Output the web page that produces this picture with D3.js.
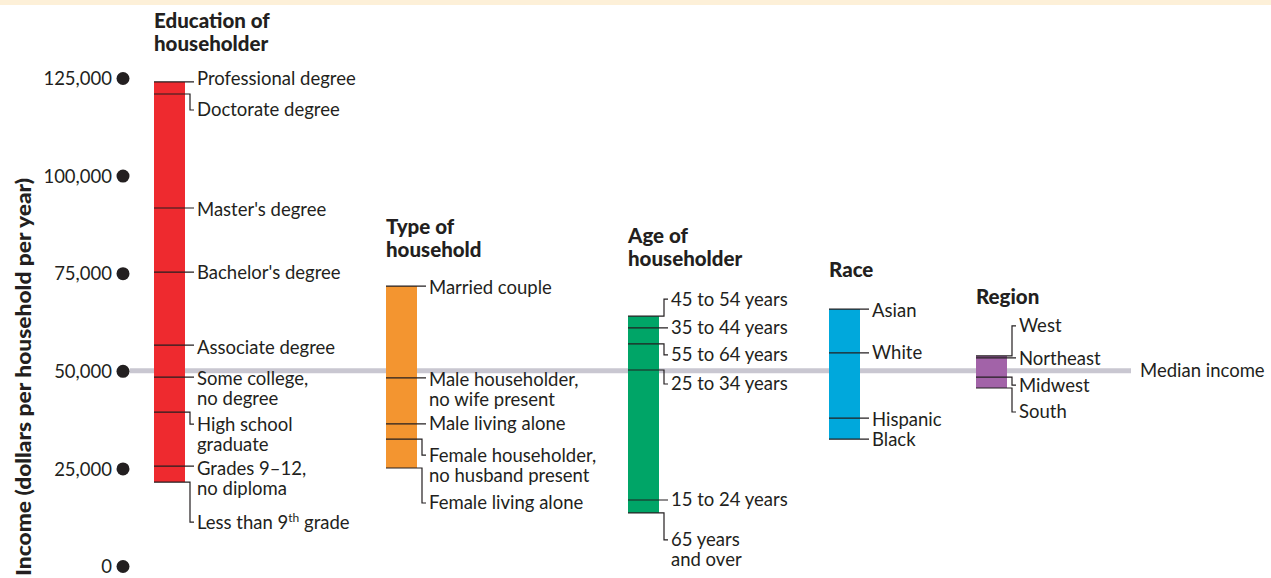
<!DOCTYPE html>
<html lang="en">
<head>
<meta charset="utf-8">
<title>Median household income by group</title>
<script src="https://cdn.jsdelivr.net/npm/d3@7"></script>
<style>
  body { margin: 0; background: #fff; }
  svg { display: block; font-family: Lato, "Open Sans", sans-serif; }
  .lbl { font-size: 18.5px; fill: #231f20; }
  .ttl { font-size: 20.5px; font-weight: 900; fill: #231f20; }
  .ytitle { font-size: 20.5px; font-weight: 900; fill: #231f20; }
  .conn { stroke: #231f20; stroke-width: 1.2; fill: none; }
</style>
</head>
<body>
<svg id="chart" width="1271" height="578"></svg>
<script>
// axis
const yTicks = [0, 25000, 50000, 75000, 100000, 125000];
const medianIncome = 50000;

// education of householder
const eduLabels = ["Professional degree", "Doctorate degree", "Master's degree", "Bachelor's degree",
  "Associate degree", "Some college,|no degree", "High school|graduate", "Grades 9\u201312,|no diploma",
  "Less than 9th grade"];
const eduValues = [124000, 120900, 91700, 75300, 56600, 48400, 39400, 25600, 21500];

// type of household
const typeLabels = ["Married couple", "Male householder,|no wife present", "Male living alone",
  "Female householder,|no husband present", "Female living alone"];
const typeValues = [71700, 48200, 36400, 32500, 25100];

// age of householder
const ageLabels = ["45 to 54 years", "35 to 44 years", "55 to 64 years", "25 to 34 years",
  "15 to 24 years", "65 years|and over"];
const ageValues = [64000, 61000, 56900, 50200, 16900, 13600];

// race
const raceLabels = ["Asian", "White", "Hispanic", "Black"];
const raceValues = [65800, 54600, 37900, 32500];

// region
const regionLabels = ["West", "Northeast", "Midwest", "South"];
const regionValues = [53800, 53300, 48400, 45600];

// label nudges (px from the value line), layout only
const eduShift = [-3, 16, 2, 0, 2, 1, 12, 2, 40];
const typeShift = [1, 2, 0, 16, 35];
const ageShift = [-17, 0, 11, 14, 0, 27];
const raceShift = [1, 0, 1, 0];
const regionShift = [-30, 1, 8, 24];

const groups = [
  {title: ["Education of", "householder"], labels: eduLabels, values: eduValues, shift: eduShift, color: "#ee2a2f", x: 154, ty: 28},
  {title: ["Type of", "household"], labels: typeLabels, values: typeValues, shift: typeShift, color: "#f39530", x: 386, ty: 234},
  {title: ["Age of", "householder"], labels: ageLabels, values: ageValues, shift: ageShift, color: "#00a567", x: 628, ty: 243},
  {title: ["Race"], labels: raceLabels, values: raceValues, shift: raceShift, color: "#00a8dc", x: 829, ty: 277},
  {title: ["Region"], labels: regionLabels, values: regionValues, shift: regionShift, color: "#a263a8", x: 976, ty: 304}
];

var svg = d3.select('#chart');
var barW = 31;

var y = d3.scaleLinear().domain([0, 125000]).range([566, 78]);

// top band
svg.append('rect').attr('x', 0).attr('y', 0).attr('width', 1271).attr('height', 5).attr('fill', '#fdf0d8');

// median line
svg.append('line')
  .attr('x1', 130).attr('x2', 1131)
  .attr('y1', y(medianIncome)).attr('y2', y(medianIncome))
  .attr('stroke', '#c9c7d1').attr('stroke-width', 5);
svg.append('text').attr('class', 'lbl')
  .attr('x', 1140).attr('y', y(medianIncome)).attr('dy', '0.35em')
  .text('Median income');

// y axis
var axis = d3.axisLeft(y).tickValues(yTicks).tickSize(0).tickPadding(11)
  .tickFormat(d3.format(','));
var gAxis = svg.append('g').attr('transform', 'translate(123,0)').call(axis);
gAxis.select('.domain').remove();
gAxis.selectAll('.tick text').attr('fill', '#231f20').style('font-size', '18.5px')
  .style('font-family', 'Lato, sans-serif').attr('dy', '0.36em');
gAxis.selectAll('.tick').append('circle').attr('r', 6.5).attr('fill', '#231f20');

svg.append('text').attr('class', 'ytitle')
  .attr('transform', 'translate(31,377) rotate(-90)')
  .attr('text-anchor', 'middle')
  .attr('textLength', 398).attr('lengthAdjust', 'spacingAndGlyphs')
  .text('Income (dollars per household per year)');

// groups
groups.forEach(function(g){
  var gg = svg.append('g');
  var top = d3.max(g.values), bot = d3.min(g.values);
  var right = g.x + barW;

  g.title.forEach(function(t, i){
    gg.append('text').attr('class', 'ttl').attr('x', g.x).attr('y', g.ty + i * 23).text(t);
  });

  gg.append('rect')
    .attr('x', g.x).attr('y', y(top))
    .attr('width', barW).attr('height', y(bot) - y(top))
    .attr('fill', g.color);

  g.values.forEach(function(v, i){
    var ly = y(v);
    var ty = ly + g.shift[i];
    var elbow = right + 5;
    var path;
    if (Math.abs(g.shift[i]) > 4) {
      path = 'M' + g.x + ',' + ly + 'H' + elbow + 'V' + ty + 'H' + (right + 9);
    } else {
      path = 'M' + g.x + ',' + ly + 'H' + (right + 9);
    }
    gg.append('path').attr('class', 'conn').attr('d', path);

    var txt = gg.append('text').attr('class', 'lbl').attr('x', right + 12).attr('y', ty);
    g.labels[i].split('|').forEach(function(line, j){
      var m = line.match(/^(.*\d)(th)( .*)$/);
      var ts = txt.append('tspan').attr('x', right + 12).attr('dy', j === 0 ? '0.35em' : '20');
      if (m) {
        ts.text(m[1]);
        txt.append('tspan').attr('dy', -7).style('font-size', '12px').text(m[2]);
        txt.append('tspan').attr('dy', 7).text(m[3]);
      } else {
        ts.text(line);
      }
    });
  });
});
</script>
</body>
</html>
